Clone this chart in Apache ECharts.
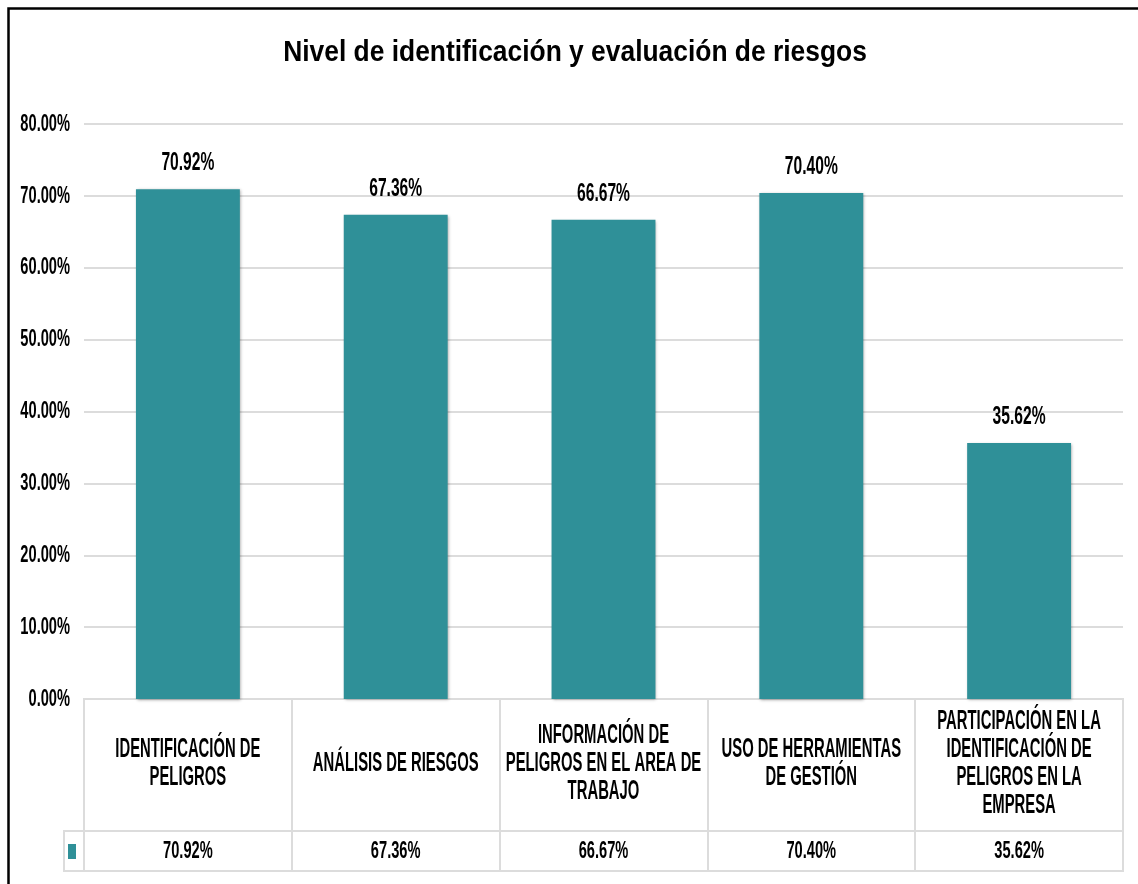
<!DOCTYPE html>
<html>
<head>
<meta charset="utf-8">
<title>Nivel de identificación y evaluación de riesgos</title>
<script src="https://cdn.jsdelivr.net/npm/echarts@6/dist/echarts.min.js"></script>
<style>
  html, body { margin: 0; padding: 0; background: #fff; }
  #chart { width: 1138px; height: 884px; }
</style>
</head>
<body>
<div id="chart"></div>
<script>
  // datos
  const titleText = 'Nivel de identificación y evaluación de riesgos';
  const categories = [
    'IDENTIFICACIÓN DE\nPELIGROS',
    'ANÁLISIS DE RIESGOS',
    'INFORMACIÓN DE\nPELIGROS EN EL AREA DE\nTRABAJO',
    'USO DE HERRAMIENTAS\nDE GESTIÓN',
    'PARTICIPACIÓN EN LA\nIDENTIFICACIÓN DE\nPELIGROS EN LA\nEMPRESA'
  ];
  const values = [0.7092, 0.6736, 0.6667, 0.7040, 0.3562];
  const yTicks = [0, 0.1, 0.2, 0.3, 0.4, 0.5, 0.6, 0.7, 0.8];

  const FONT = "'Liberation Sans', Arial, sans-serif";
  const TEAL = '#2f9098';
  const LINE = '#dcdcdc';
  const pct = v => (v * 100).toFixed(2) + '%';

  // texto estrecho (tipo Arial Narrow) escalando en x
  const narrowText = (x, y, text, size, sx, opts) => ({
    type: 'text',
    x: x, y: y,
    scaleX: sx,
    silent: true,
    style: {
      text: text,
      fontFamily: FONT,
      fontSize: size,
      fontWeight: (opts && opts.light) ? 'normal' : 'bold',
      lineHeight: (opts && opts.lineHeight) || size,
      fill: '#000',
      align: (opts && opts.align) || 'center',
      verticalAlign: 'middle'
    }
  });

  const myChart = echarts.init(document.getElementById('chart'));

  const option = {
    backgroundColor: '#fff',
    animation: false,
    legend: {
      data: ['Nivel'],
      left: 68,
      top: 844,
      padding: 0,
      icon: 'rect',
      itemWidth: 8,
      itemHeight: 15,
      itemGap: 0,
      formatter: () => '',
      selectedMode: false
    },
    grid: [
      { left: 84, right: 15, top: 124, height: 575 },
      { left: 84, right: 15, top: 699, height: 132, show: true, borderColor: LINE, borderWidth: 2 },
      { left: 84, right: 15, top: 831, height: 40, show: true, borderColor: LINE, borderWidth: 2 }
    ],
    xAxis: [
      {
        gridIndex: 0, type: 'category', data: categories,
        axisLine: { show: false }, axisTick: { show: false }, axisLabel: { show: false }
      },
      {
        gridIndex: 1, type: 'category', data: categories,
        axisLine: { show: false }, axisTick: { show: false }, axisLabel: { show: false },
        splitLine: { show: true, lineStyle: { color: LINE, width: 2 } }
      },
      {
        gridIndex: 2, type: 'category', data: categories,
        axisLine: { show: false }, axisTick: { show: false }, axisLabel: { show: false },
        splitLine: { show: true, lineStyle: { color: LINE, width: 2 } }
      }
    ],
    yAxis: [
      {
        gridIndex: 0, type: 'value', min: 0, max: 0.8, interval: 0.1,
        axisLine: { show: false }, axisTick: { show: false },
        axisLabel: { show: false },
        splitLine: { lineStyle: { color: LINE, width: 2 } }
      },
      { gridIndex: 1, type: 'value', min: 0, max: 1, show: false },
      { gridIndex: 2, type: 'value', min: 0, max: 1, show: false }
    ],
    series: [
      {
        name: 'Nivel',
        type: 'bar',
        xAxisIndex: 0, yAxisIndex: 0,
        data: values,
        barWidth: '50%',
        itemStyle: {
          color: TEAL,
          shadowColor: 'rgba(0,0,0,0.35)',
          shadowBlur: 3,
          shadowOffsetX: 1,
          shadowOffsetY: 1
        }
      },
      {
        // etiquetas del eje y
        type: 'custom',
        xAxisIndex: 0, yAxisIndex: 0,
        clip: false,
        silent: true,
        data: yTicks.map(v => [0, v]),
        renderItem: (params, api) => {
          const pt = api.coord([0, api.value(1)]);
          return narrowText(params.coordSys.x - 14, pt[1], pct(api.value(1)), 24, 0.61, { align: 'right' });
        }
      },
      {
        // etiquetas de datos sobre las barras
        type: 'custom',
        xAxisIndex: 0, yAxisIndex: 0,
        clip: false,
        silent: true,
        data: values.map((v, i) => [i, v]),
        renderItem: (params, api) => {
          const pt = api.coord([api.value(0), api.value(1)]);
          return narrowText(pt[0], pt[1] - 26, pct(api.value(1)), 25, 0.625);
        }
      },
      {
        // encabezados de la tabla de datos
        type: 'custom',
        xAxisIndex: 1, yAxisIndex: 1,
        clip: false,
        silent: true,
        data: categories.map((c, i) => [i, 0.5]),
        renderItem: (params, api) => {
          const pt = api.coord([api.value(0), api.value(1)]);
          return narrowText(pt[0], pt[1] - 1, categories[params.dataIndex], 27, 0.55, { lineHeight: 28 });
        }
      },
      {
        // fila de valores
        type: 'custom',
        xAxisIndex: 2, yAxisIndex: 2,
        clip: false,
        silent: true,
        data: values.map((v, i) => [i, 0.5]),
        renderItem: (params, api) => {
          const pt = api.coord([api.value(0), api.value(1)]);
          return narrowText(pt[0], pt[1], pct(values[params.dataIndex]), 24, 0.61);
        }
      }
    ],
    graphic: [
      narrowText(575, 53, titleText, 29, 0.91),
      {
        // celda de la clave de leyenda
        type: 'rect',
        shape: { x: 64, y: 831, width: 20, height: 40 },
        style: { fill: 'none', stroke: LINE, lineWidth: 2 },
        silent: true
      },
      {
        // borde exterior
        type: 'rect',
        shape: { x: 8.5, y: 8.5, width: 1200, height: 1000 },
        style: { fill: 'none', stroke: '#000', lineWidth: 2.5 },
        silent: true
      }
    ]
  };

  myChart.setOption(option);
</script>
</body>
</html>
